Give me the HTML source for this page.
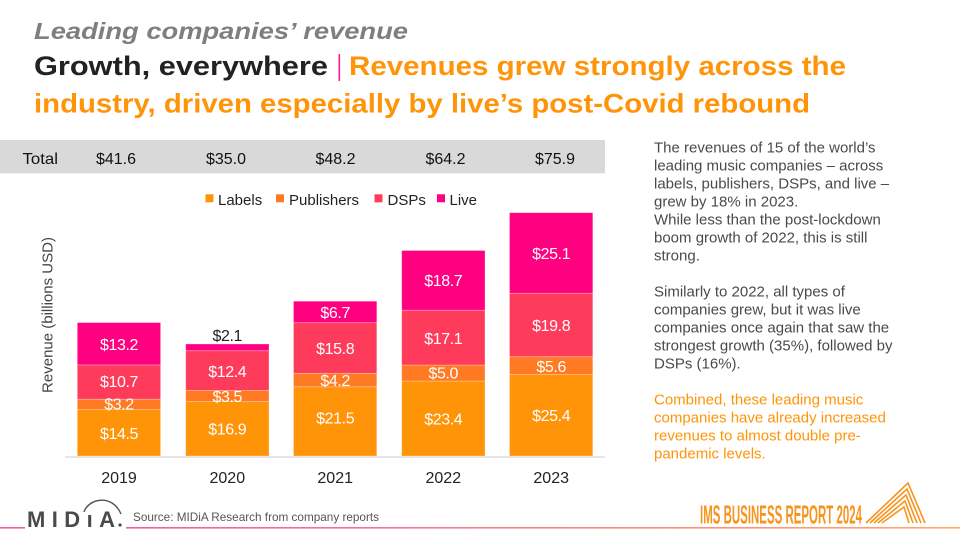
<!DOCTYPE html>
<html>
<head>
<meta charset="utf-8">
<style>
  html,body{margin:0;padding:0;background:#fff;}
  svg{display:block;}
  text{font-family:"Liberation Sans",Arial,sans-serif;}
</style>
</head>
<body>
<svg width="960" height="540" viewBox="0 0 960 540" xmlns="http://www.w3.org/2000/svg">
  <defs>
    <linearGradient id="fl" x1="0" y1="0" x2="1" y2="0">
      <stop offset="0" stop-color="#F25DA6"/>
      <stop offset="0.5" stop-color="#FF7F86"/>
      <stop offset="1" stop-color="#FFAA66"/>
    </linearGradient>
  </defs>
  <rect width="960" height="540" fill="#fff"/>

  <!-- Titles -->
  <text x="34" y="39" font-size="23.5" font-weight="bold" font-style="italic" fill="#7f7f7f" textLength="374" lengthAdjust="spacingAndGlyphs">Leading companies’ revenue</text>
  <text x="34" y="75" font-size="27" font-weight="bold" fill="#222" textLength="294" lengthAdjust="spacingAndGlyphs">Growth, everywhere</text>
  <rect x="338.5" y="54" width="1.6" height="27" fill="#FF1A8C"/>
  <text x="349" y="75" font-size="27" font-weight="bold" fill="#FF9408" textLength="497" lengthAdjust="spacingAndGlyphs">Revenues grew strongly across the</text>
  <text x="34" y="112.7" font-size="27" font-weight="bold" fill="#FF9408" textLength="776" lengthAdjust="spacingAndGlyphs">industry, driven especially by live’s post-Covid rebound</text>

  <!-- Totals band -->
  <rect x="0" y="140" width="605" height="33.3" fill="#d9d9d9"/>
  <g font-size="16" fill="#111">
    <text x="22.5" y="164" textLength="35.5" lengthAdjust="spacingAndGlyphs">Total</text>
    <g text-anchor="middle">
      <text x="116" y="164">$41.6</text>
      <text x="226" y="164">$35.0</text>
      <text x="335.5" y="164">$48.2</text>
      <text x="445.5" y="164">$64.2</text>
      <text x="555" y="164">$75.9</text>
    </g>
  </g>

  <!-- Legend -->
  <g font-size="15" fill="#222">
    <rect x="205.5" y="194.3" width="8" height="8" fill="#FF9408"/>
    <text x="218" y="205">Labels</text>
    <rect x="276" y="194.3" width="8" height="8" fill="#FF7A22"/>
    <text x="289" y="205">Publishers</text>
    <rect x="374.5" y="194.3" width="8" height="8" fill="#FF3B5C"/>
    <text x="387.5" y="205">DSPs</text>
    <rect x="437" y="194.3" width="8" height="8" fill="#FF0080"/>
    <text x="449.5" y="205">Live</text>
  </g>

  <!-- Y axis label -->
  <text transform="translate(52.5,315) rotate(-90)" text-anchor="middle" font-size="15" fill="#444">Revenue (billions USD)</text>

  <!-- Bars -->
  <g stroke="#ffffff" stroke-opacity="0.35" stroke-width="0.8">
    <rect x="77.3" y="409.5" width="83.3" height="46.5" fill="#FF9408"/>
    <rect x="77.3" y="399.2" width="83.3" height="10.3" fill="#FF7A22"/>
    <rect x="77.3" y="364.9" width="83.3" height="34.3" fill="#FF3B5C"/>
    <rect x="77.3" y="322.6" width="83.3" height="42.3" fill="#FF0080"/>

    <rect x="185.7" y="401.6" width="83.3" height="54.4" fill="#FF9408"/>
    <rect x="185.7" y="390.4" width="83.3" height="11.2" fill="#FF7A22"/>
    <rect x="185.7" y="350.7" width="83.3" height="39.7" fill="#FF3B5C"/>
    <rect x="185.7" y="344.0" width="83.3" height="6.7" fill="#FF0080"/>

    <rect x="293.5" y="386.8" width="83.3" height="69.2" fill="#FF9408"/>
    <rect x="293.5" y="373.3" width="83.3" height="13.5" fill="#FF7A22"/>
    <rect x="293.5" y="322.7" width="83.3" height="50.6" fill="#FF3B5C"/>
    <rect x="293.5" y="301.2" width="83.3" height="21.5" fill="#FF0080"/>

    <rect x="401.7" y="381.0" width="83.3" height="75.0" fill="#FF9408"/>
    <rect x="401.7" y="365.0" width="83.3" height="16.0" fill="#FF7A22"/>
    <rect x="401.7" y="310.2" width="83.3" height="54.8" fill="#FF3B5C"/>
    <rect x="401.7" y="250.5" width="83.3" height="59.7" fill="#FF0080"/>

    <rect x="509.5" y="374.6" width="83.3" height="81.4" fill="#FF9408"/>
    <rect x="509.5" y="356.7" width="83.3" height="17.9" fill="#FF7A22"/>
    <rect x="509.5" y="293.3" width="83.3" height="63.4" fill="#FF3B5C"/>
    <rect x="509.5" y="212.7" width="83.3" height="80.6" fill="#FF0080"/>
  </g>

  <!-- Axis baseline -->
  <rect x="65" y="456" width="540" height="2" fill="#e6e6e6"/>

  <!-- Value labels -->
  <g font-size="16" fill="#fff" text-anchor="middle" dominant-baseline="central" letter-spacing="-0.4">
    <text x="119" y="345.7">$13.2</text>
    <text x="119" y="382.7">$10.7</text>
    <text x="119" y="405">$3.2</text>
    <text x="119" y="434.3">$14.5</text>

    <text x="227.3" y="372.3">$12.4</text>
    <text x="227.3" y="397.3">$3.5</text>
    <text x="227.3" y="430">$16.9</text>

    <text x="335.2" y="313.3">$6.7</text>
    <text x="335.2" y="349.3">$15.8</text>
    <text x="335.2" y="381.7">$4.2</text>
    <text x="335.2" y="419">$21.5</text>

    <text x="443.3" y="281.7">$18.7</text>
    <text x="443.3" y="339.3">$17.1</text>
    <text x="443.3" y="374">$5.0</text>
    <text x="443.3" y="420">$23.4</text>

    <text x="551.2" y="254.3">$25.1</text>
    <text x="551.2" y="326.7">$19.8</text>
    <text x="551.2" y="367.3">$5.6</text>
    <text x="551.2" y="416.7">$25.4</text>
  </g>
  <text x="227.3" y="336.7" font-size="16" fill="#222" text-anchor="middle" dominant-baseline="central" letter-spacing="-0.4">$2.1</text>

  <!-- Year labels -->
  <g font-size="16" fill="#222" text-anchor="middle">
    <text x="119" y="483">2019</text>
    <text x="227.3" y="483">2020</text>
    <text x="335.2" y="483">2021</text>
    <text x="443.3" y="483">2022</text>
    <text x="551.2" y="483">2023</text>
  </g>

  <!-- Right commentary -->
  <g font-size="15" fill="#4a4a4a">
    <text x="654" y="152.7">The revenues of 15 of the world’s</text>
    <text x="654" y="170.7">leading music companies – across</text>
    <text x="654" y="188.7">labels, publishers, DSPs, and live –</text>
    <text x="654" y="206.7">grew by 18% in 2023.</text>
    <text x="654" y="224.7">While less than the post-lockdown</text>
    <text x="654" y="242.7">boom growth of 2022, this is still</text>
    <text x="654" y="260.7">strong.</text>
    <text x="654" y="296.7">Similarly to 2022, all types of</text>
    <text x="654" y="314.7">companies grew, but it was live</text>
    <text x="654" y="332.7">companies once again that saw the</text>
    <text x="654" y="350.7">strongest growth (35%), followed by</text>
    <text x="654" y="368.7">DSPs (16%).</text>
  </g>
  <g font-size="15" fill="#FF9408">
    <text x="654" y="404.7">Combined, these leading music</text>
    <text x="654" y="422.7">companies have already increased</text>
    <text x="654" y="440.7">revenues to almost double pre-</text>
    <text x="654" y="458.7">pandemic levels.</text>
  </g>

  <!-- Footer lines -->
  <rect x="0" y="527" width="25" height="1.6" fill="#F25DA6"/>
  <rect x="126" y="527" width="834" height="1.6" fill="url(#fl)"/>

  <!-- MIDiA logo -->
  <text x="27" y="527" font-size="22" font-weight="bold" fill="#4a4a4a" textLength="88" lengthAdjust="spacing">MIDıA</text>
  <circle cx="120" cy="525" r="1.6" fill="#4a4a4a"/>
  <path d="M 84 512 C 88 499, 112 493, 121 514" fill="none" stroke="#555" stroke-width="1.4"/>

  <!-- Source -->
  <text x="133" y="521" font-size="12" fill="#555" textLength="246" lengthAdjust="spacingAndGlyphs">Source: MIDiA Research from company reports</text>

  <!-- IMS logo -->
  <text x="700" y="523.3" font-size="26" font-weight="bold" fill="#F7941D" textLength="162" lengthAdjust="spacingAndGlyphs">IMS BUSINESS REPORT 2024</text>
  <g fill="none" stroke="#F7941D" stroke-width="1.6" stroke-linejoin="miter">
    <polyline points="866,523 908,483 925,523"/>
    <polyline points="870,523 907,489 921,523"/>
    <polyline points="874,523 906,495 917,523"/>
    <polyline points="878,523 905,501 913,523"/>
    <polyline points="882,523 904,507 909,523"/>
  </g>
</svg>
</body>
</html>
